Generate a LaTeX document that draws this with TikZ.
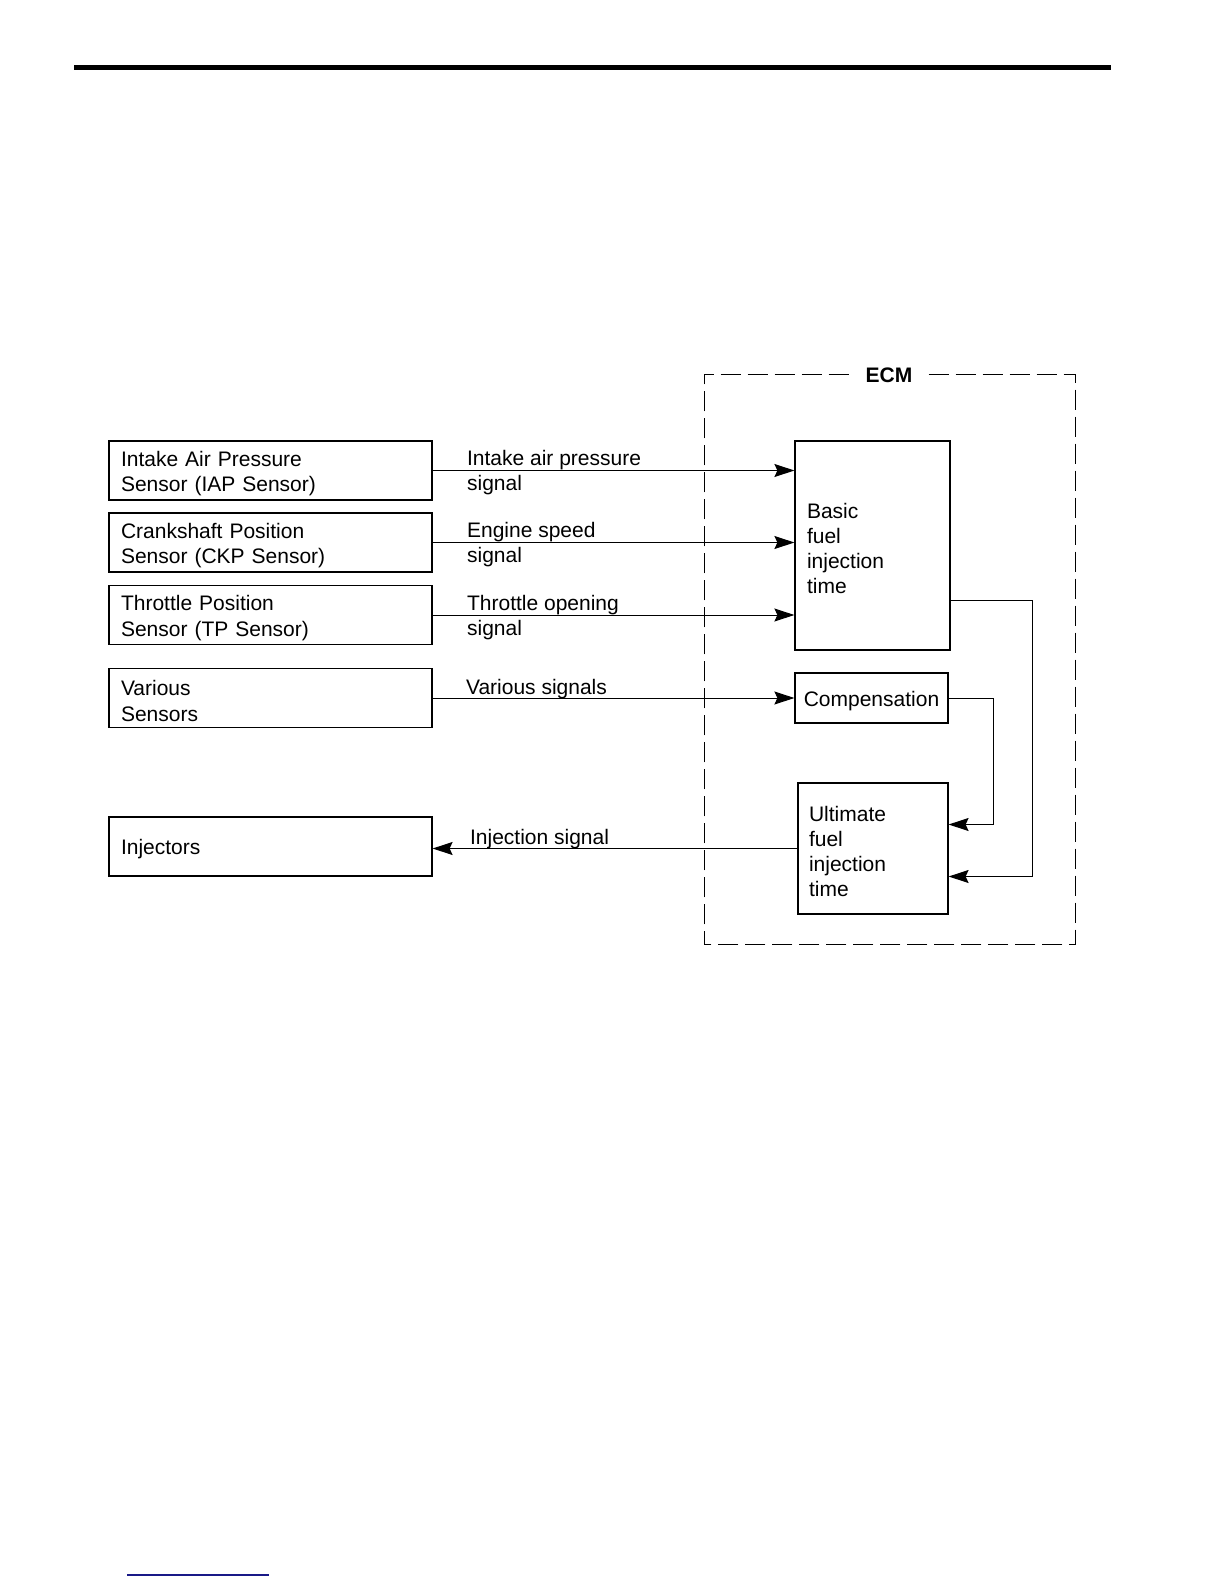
\documentclass[tikz,border=0pt]{standalone}
\usepackage{fontspec}
\setmainfont{Liberation Sans}
\usetikzlibrary{arrows.meta}

\definecolor{linkblue}{RGB}{25,25,135}

\begin{document}
\begin{tikzpicture}[
    x = 0.5pt, y = -0.5pt,
    >={Stealth[length = 10pt, width = 6.5pt, inset = 1.5pt]},
    font = \fontsize{10.5}{12.6}\selectfont,
    sensor/.style = {
        rectangle, draw, line width = 0.6pt,
        minimum width = 161.5pt, minimum height = 29.5pt,
        text width = 149.5pt, align = left, text height = 10.6pt,
        inner xsep = 6pt, inner ysep = 0pt
    },
    block/.style = {
        rectangle, draw, line width = 0.6pt,
        align = left, text height = 10.6pt,
        inner xsep = 6pt, inner ysep = 0pt
    },
    signal/.style = {inner sep = 0pt, align = left},
    arrow/.style = {line width = 0.5pt, ->}
]

\useasboundingbox (0,0) rectangle (1224,1584);

% --- Page rules ---
\draw[line width = 2.5pt] (74,68) -- (1111,68);
\draw[linkblue, line width = 0.7pt] (127,1575) -- (269,1575);

% --- ECM frame ---
\node[inner xsep = 8pt, font = \fontsize{10.5}{12.6}\selectfont\bfseries] (ecm) at (889,375) {ECM};
\draw[line width = 0.5pt, dash pattern = on 10pt off 3.5pt]
    (ecm.east |- 0,374) -- (1075,374) -- (1075,944) -- (704,944) -- (704,374) -- (ecm.west |- 0,374);

% --- Sensors (absolute coordinates, px) ---
\node[sensor] (iap)     at (270.5,470.5) {Intake Air Pressure\\Sensor (IAP Sensor)};
\node[sensor] (ckp)     at (270.5,542.5) {Crankshaft Position\\Sensor (CKP Sensor)};
\node[sensor] (tp)      at (270.5,615)   {Throttle Position\\Sensor (TP Sensor)};
\node[sensor] (various) at (270.5,698)   {Various\\Sensors};
\node[sensor] (inj)     at (270.5,846.5) {Injectors};

% --- ECM blocks ---
\node[block, minimum width = 77.5pt, minimum height = 104.5pt, text width = 65.5pt]
    (basic) at (872.5,545.5) {Basic\\fuel\\injection\\time};

\node[block, minimum width = 76.5pt, minimum height = 25pt, align = center, inner xsep = 4pt]
    (comp) at (871.5,698) {Compensation};

\node[block, minimum width = 75pt, minimum height = 65.5pt, text width = 64pt, inner xsep = 5.5pt]
    (ult) at (873,848.5) {Ultimate\\fuel\\injection\\time};

% --- Signals ---
\draw[arrow] (iap.east) -- node[signal, pos = 0, anchor = west, xshift = 17pt, text depth = 0pt]
    {Intake air pressure\\signal} (iap.east -| basic.west);

\draw[arrow] (ckp.east) -- node[signal, pos = 0, anchor = west, xshift = 17pt, text depth = 0pt]
    {Engine speed\\signal} (ckp.east -| basic.west);

\draw[arrow] (tp.east) -- node[signal, pos = 0, anchor = west, xshift = 17pt, text depth = 0pt]
    {Throttle opening\\signal} (tp.east -| basic.west);

\draw[arrow] (various.east) -- node[signal, pos = 0, anchor = base west, xshift = 16.5pt, yshift = 2pt]
    {Various signals} (comp.west);

\draw[arrow] (ult.west) -- node[signal, pos = 1, anchor = base west, xshift = 18.5pt, yshift = 2pt]
    {Injection signal} (ult.west -| inj.east);

% --- Feedback into ultimate time ---
\draw[arrow] (comp.east) -- ++(45,0) |- ([yshift = 12pt]ult.east);
\draw[arrow] ([yshift = 25pt]basic.south east) -- ++(82,0) |- ([yshift = -14pt]ult.east);

\end{tikzpicture}
\end{document}
